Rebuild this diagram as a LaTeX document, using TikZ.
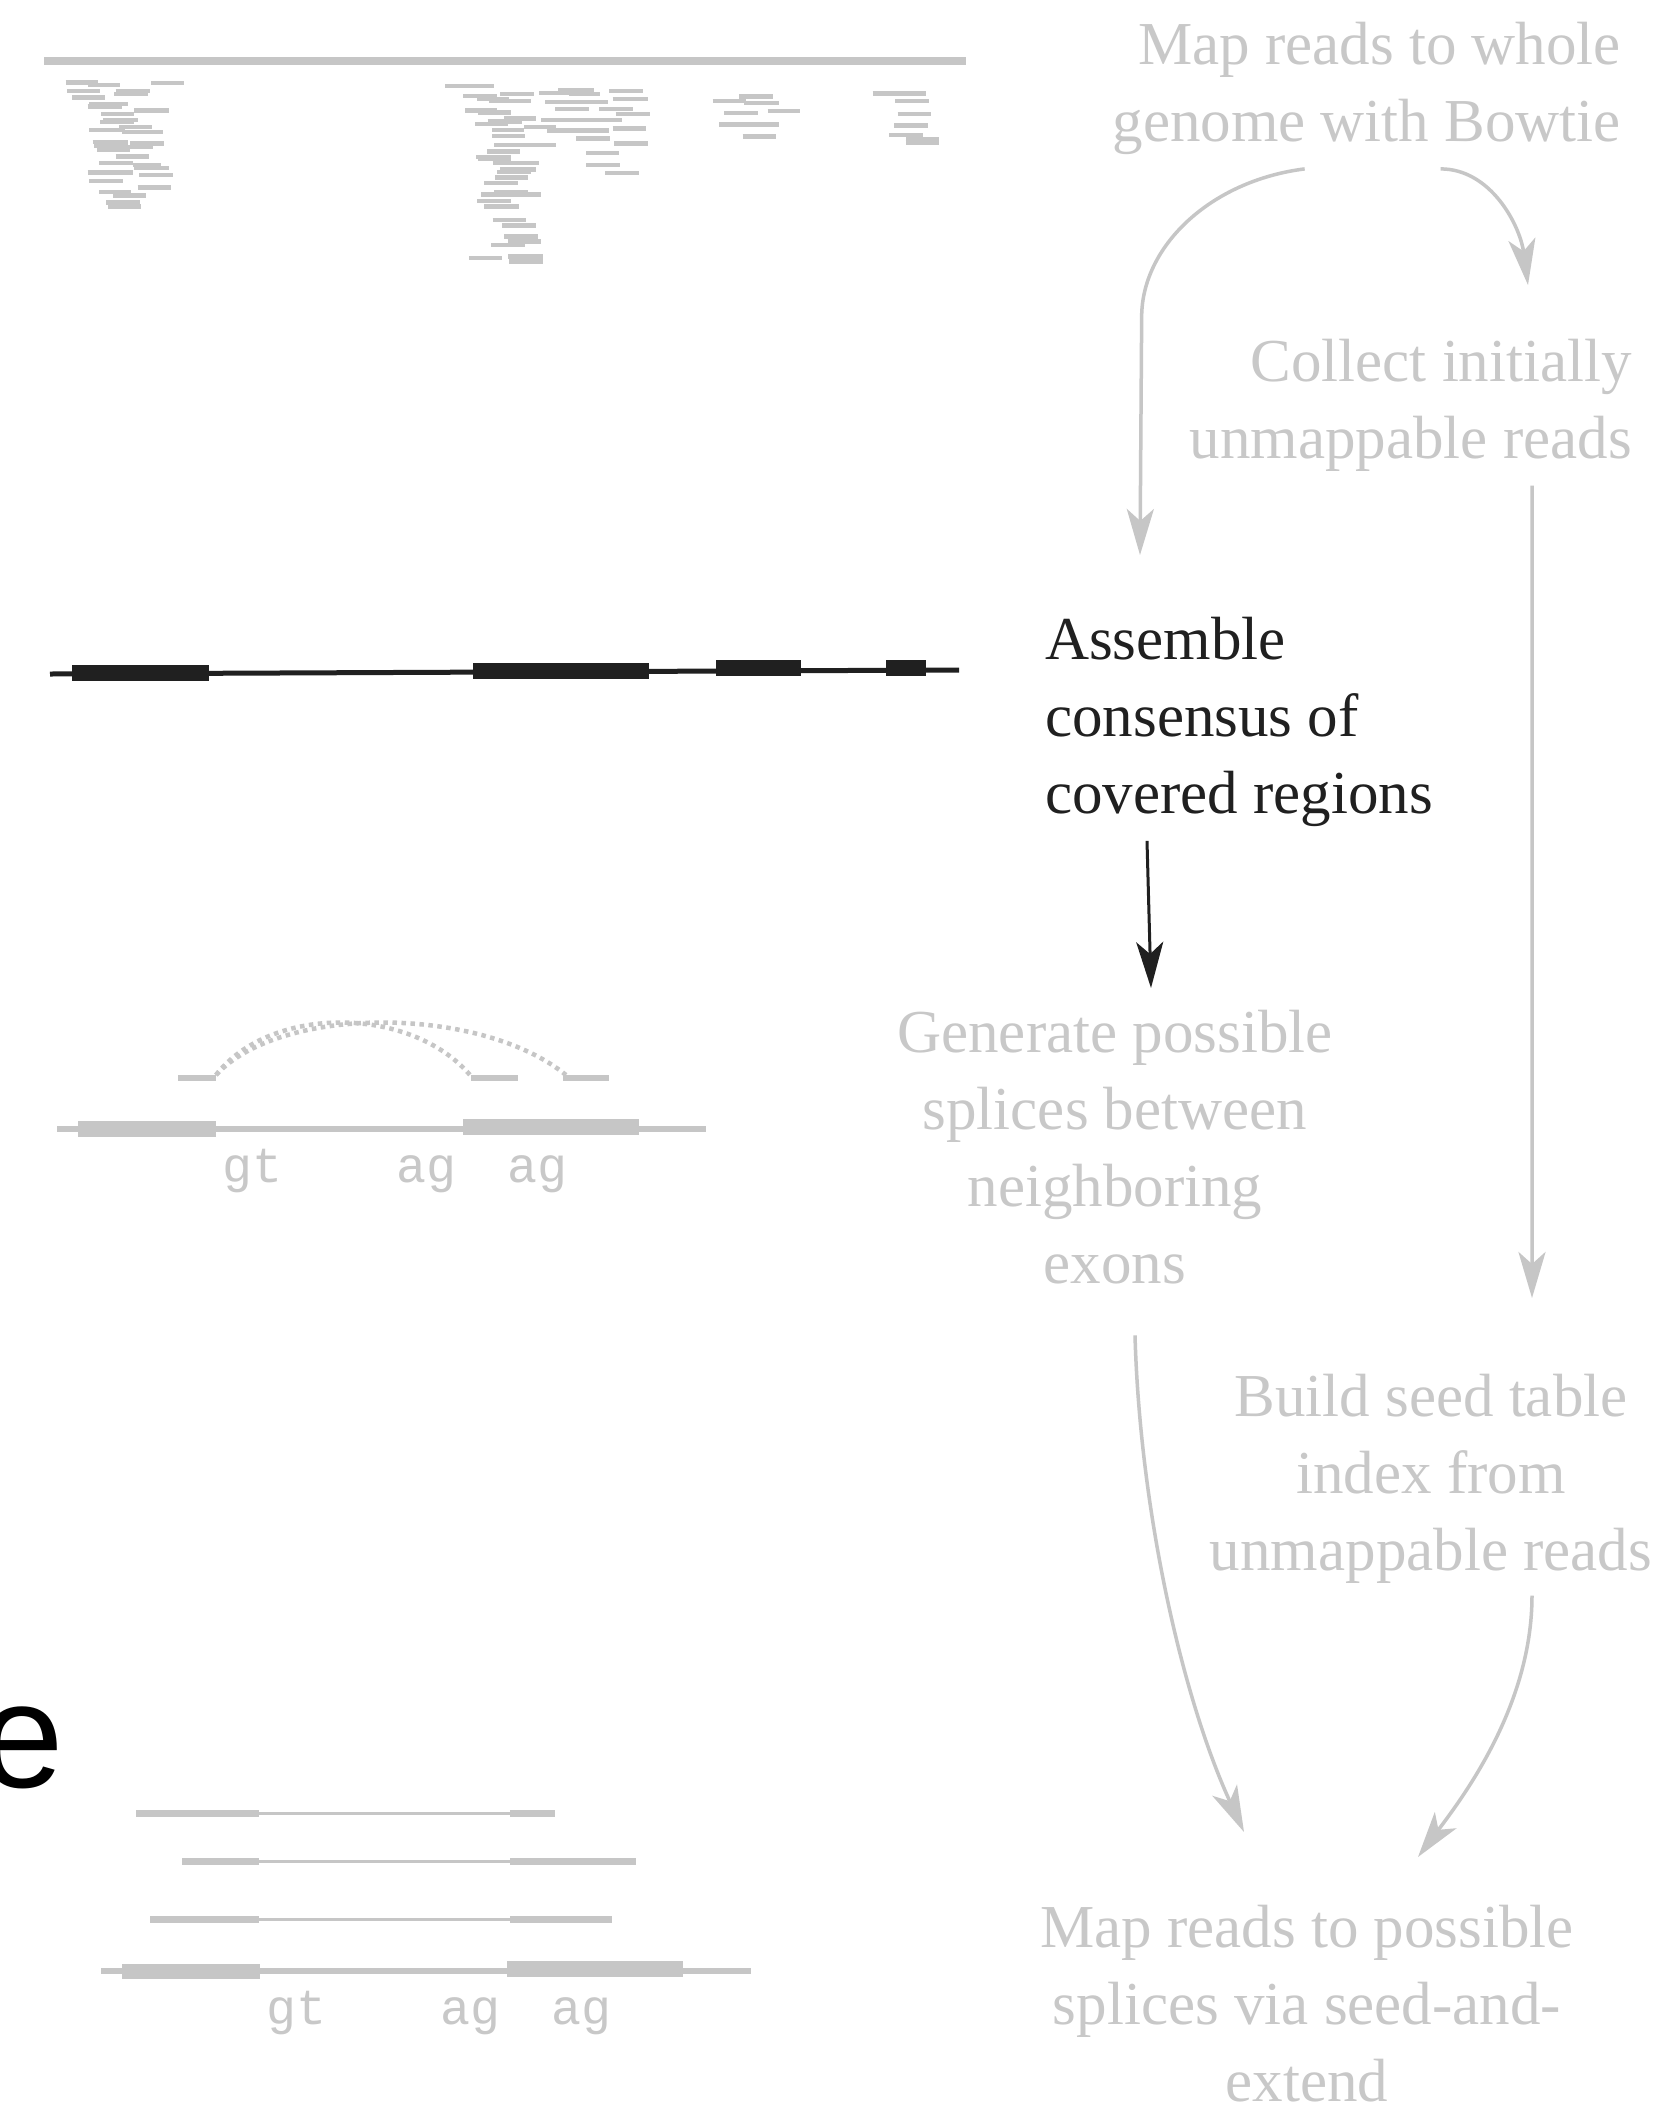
\documentclass[tikz,border=0pt]{standalone}
\usepackage{fontspec}
\setmainfont{Liberation Serif}
\newfontfamily\monofont{Liberation Mono}
\newfontfamily\sansfont{Liberation Sans}
\usetikzlibrary{arrows.meta}
\definecolor{ltgray}{RGB}{198,198,198}
\definecolor{txtgray}{RGB}{200,200,200}
\definecolor{ink}{RGB}{32,32,32}

\begin{document}
\begin{tikzpicture}[x=1bp,y=-1bp,
  steptext/.style={inner sep=0pt, font=\fontsize{61bp}{77bp}\selectfont, text=txtgray},
  flow/.style={draw=ltgray, line width=3.5bp, -{Stealth[length=46bp,width=27bp,inset=12bp]}},
  darkflow/.style={draw=ink, line width=3bp, -{Stealth[length=46bp,width=27bp,inset=12bp]}},
  read/.style={draw=ltgray, line width=4.5bp},
  intron/.style={draw=ltgray, line width=3bp},
  backbone/.style={draw=ltgray, line width=6bp},
  junction/.style={draw=ltgray, line width=4.5bp, dash pattern=on 4.5bp off 4.5bp},
  site/.style={inner sep=0pt, anchor=base west, text=txtgray, font=\monofont\fontsize{50bp}{50bp}\selectfont}
]
\useasboundingbox (0,0) rectangle (1670,2106);
\fill[white] (0,0) rectangle (1670,2106);
\clip (0,0) rectangle (1670,2106);

% ---------- genome with piled-up reads ----------
\draw[ltgray, line width=8bp] (44,61) -- (966,61);
\foreach \a/\b/\y in {
  65.6/98.1/82.3, 87.5/120/85, 151/184/83, 66.9/100/91, 115.6/150/91, 114/148/94,
  72/105/97.7, 89/128/104, 87.5/122/106.7, 101/134/114, 134/169/110.7, 103/137.5/120,
  100/134/122, 119/152/127, 89/125/130, 122/162.5/132, 92.5/128/142, 94/128/146,
  97/130/150, 130/164/143.7, 128/153/147, 115.6/149/156.7, 99/133/163, 133/161/165,
  134/169/168, 87.5/132.5/172.7, 139/172.5/175, 89/123/181, 137.5/170.6/187.7,
  99/131/192, 112.5/146/195.7, 106/140/202.7, 107.5/140.6/206.7}
  \draw[read] (\a,\y) -- (\b,\y);
\foreach \a/\b/\y in {
  445/494/86, 463/497/96, 500/534/94, 477/509/99, 489/531/101, 539/572/93,
  558/594/90.7, 569/600/94, 609/642.5/91, 545/607.5/102, 612.5/647.5/99,
  555/589/109, 599/632.5/109, 615.6/650/114, 465/497/110.7, 478/511/112.7,
  475/507.5/124, 487.5/522/121.7, 504/536/118.7, 541/575/120, 575/622/120,
  492/524/130, 492/525/136, 524/556/127, 547/609/130.7, 612.5/646/128.7,
  576/610/138.7, 614/648/143.7, 494/556/145, 487/520/151.7, 586/619/153,
  476/511/157, 478/511/159, 492.5/539/163, 586/620/165, 500/536/169.7,
  497/531/172, 495/528/177.7, 605/639/173, 484/518/183, 494/528/192.7,
  481/541/194.7, 477/511/201, 484/519/206.7, 492.5/526/220, 502/536/225.7,
  504/538/236.7, 507.5/541/241.7, 491/525/245, 469/502/258, 508/542.5/256.7,
  509/542.5/261.7}
  \draw[read] (\a,\y) -- (\b,\y);
\foreach \a/\b/\y in {
  739/772.5/96.7, 712.5/746/101, 744/779/103, 724/757.5/113, 767.5/800/111,
  719/779/124.7, 742.5/776/136.7,
  872.5/925.6/93.7, 895/929/101, 897.5/930.6/114, 894/927.5/125.7,
  889/922.5/135, 906/939/139, 905.6/939/142.7}
  \draw[read] (\a,\y) -- (\b,\y);

% ---------- consensus of covered regions ----------
\draw[ink, line width=5bp] (50,674) -- (959,670);
\fill[ink] (72,665) rectangle (209,681);
\fill[ink] (473,663) rectangle (649,679);
\fill[ink] (716,660) rectangle (801,676);
\fill[ink] (886,660) rectangle (926,676);

% ---------- candidate splices ----------
\draw[backbone] (57,1129) -- (706,1129);
\fill[ltgray] (78,1121) rectangle (216,1137);
\fill[ltgray] (463,1119) rectangle (639,1135);
\draw[ltgray, line width=6bp] (178,1078) -- (216,1078);
\draw[ltgray, line width=6bp] (471,1078) -- (518,1078);
\draw[ltgray, line width=6bp] (563,1078) -- (609,1078);
\draw[junction] (216,1075) .. controls (270,1005) and (410,1005) .. (470,1075);
\draw[junction] (216,1075) .. controls (280,1005) and (480,1005) .. (566,1075);
\node[site] (gt1) at (222,1182) {gt};
\node[site] (ag1) at (396,1182) {ag};
\node[site] (ag2) at (507,1182) {ag};

% ---------- reads aligned across splices ----------
\draw[intron] (259,1813) -- (510,1813);
\draw[ltgray, line width=7bp] (136,1813) -- (259,1813);
\draw[ltgray, line width=7bp] (510,1813) -- (555,1813);
\draw[intron] (259,1861) -- (510,1861);
\draw[ltgray, line width=7bp] (182,1861) -- (259,1861);
\draw[ltgray, line width=7bp] (510,1861) -- (636,1861);
\draw[intron] (259,1919) -- (510,1919);
\draw[ltgray, line width=7bp] (150,1919) -- (259,1919);
\draw[ltgray, line width=7bp] (510,1919) -- (612,1919);
\draw[backbone] (101,1971) -- (751,1971);
\fill[ltgray] (122,1964) rectangle (260,1979);
\fill[ltgray] (507,1961) rectangle (683,1977);
\node[site] (gt2) at (266,2024) {gt};
\node[site] (ag3) at (440,2024) {ag};
\node[site] (ag4) at (551,2024) {ag};

% ---------- partial panel letter ----------
\node[inner sep=0pt, anchor=base west, font=\sansfont\fontsize{150bp}{150bp}\selectfont] (panel) at (-20,1787) {e};

% ---------- pipeline steps ----------
\node[steptext, anchor=north east, align=right] (bowtie) at (1621,22)
  {Map reads to whole\\genome with Bowtie};
\node[steptext, anchor=north east, align=right] (collect) at (1632,339)
  {Collect initially\\unmappable reads};
\node[steptext, anchor=north west, align=left, text=ink] (assemble) at (1045,617)
  {Assemble\\consensus of\\covered regions};
\node[steptext, anchor=north, align=center] (generate) at (1115,1010)
  {Generate possible\\splices between\\neighboring\\exons};
\node[steptext, anchor=north, align=center] (seed) at (1431,1374)
  {Build seed table\\index from\\unmappable reads};
\node[steptext, anchor=north, align=center] (extend) at (1307,1905)
  {Map reads to possible\\splices via seed-and-\\extend};

% ---------- connectors ----------
\draw[flow] ([xshift=-62bp,yshift=-14bp]bowtie.south)
  .. controls +(-95,12) and +(0,-70) .. ++(-163,148)
  -- ([xshift=95bp,yshift=62bp]assemble.north west);
\draw[flow] ([xshift=74bp,yshift=-14bp]bowtie.south)
  .. controls +(50,0) and +(-8,-60) .. ([xshift=-104bp,yshift=54bp]collect.north east);
\draw[flow] ([xshift=-100bp,yshift=-14bp]collect.south east)
  -- ([xshift=101bp,yshift=76bp]seed.north);
\draw[darkflow] ([xshift=102bp,yshift=-14bp]assemble.south west)
  -- ([xshift=36bp,yshift=22bp]generate.north);
\draw[flow] ([xshift=20bp,yshift=-51bp]generate.south)
  .. controls +(5,180) and +(-60,-130) .. ([xshift=-63bp,yshift=73bp]extend.north);
\draw[flow] ([xshift=101bp,yshift=-12bp]seed.south)
  .. controls +(0,110) and +(45,-60) .. ([xshift=111bp,yshift=48bp]extend.north);
\end{tikzpicture}
\end{document}
